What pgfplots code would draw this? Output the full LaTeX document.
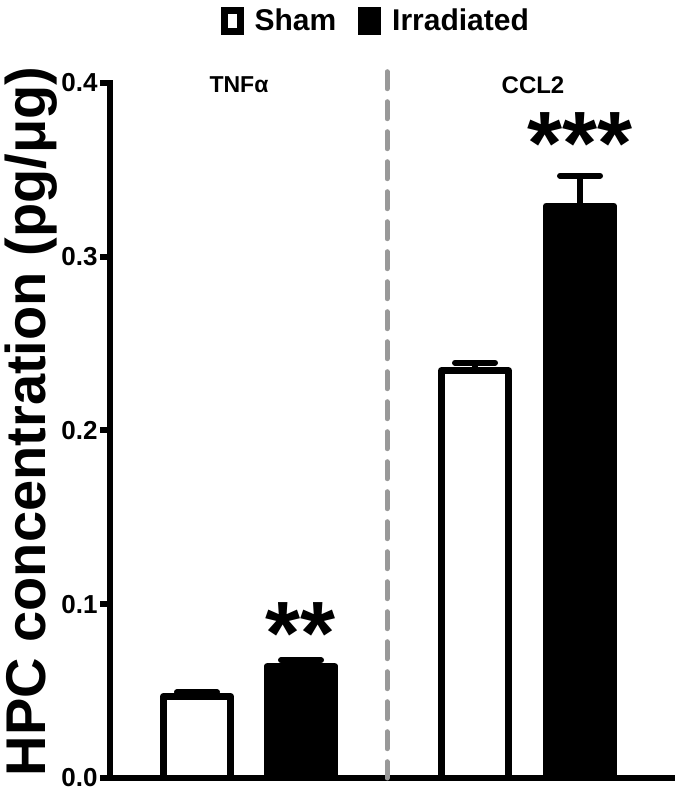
\documentclass[border=0pt]{standalone}
\usepackage{pgfplots}
\pgfplotsset{compat=1.18}
\usepackage{fontspec}
\setmainfont{Liberation Sans}
\begin{document}
\begin{tikzpicture}[x=1pt,y=1pt]
\useasboundingbox (0,0) rectangle (337,398);
\begin{axis}[
  at={(55pt,9pt)}, anchor=south west,
  scale only axis,
  width=282pt, height=347.5pt,
  xmin=0, xmax=564, ymin=0, ymax=0.4,
  axis x line=bottom, axis y line=left,
  axis line style={-, line width=3pt, line cap=rect},
  xtick=\empty,
  ytick={0,0.1,0.2,0.3,0.4},
  yticklabel style={font=\bfseries\fontsize{13}{13}\selectfont, inner xsep=1pt},
  /pgf/number format/fixed, /pgf/number format/fixed zerofill,
  /pgf/number format/precision=1,
  /pgf/number format/assume math mode=true,
  y tick style={line width=3pt, black},
  tick align=outside, major tick length=5pt,
  ylabel={HPC concentration (pg/μg)},
  ylabel style={font=\bfseries\fontsize{28}{28}\selectfont, at={(ticklabel cs:0.513)}, inner sep=1pt},
  clip=false,
  legend style={at={(rel axis cs:0.473,1)}, anchor=center, yshift=31pt,
    draw=none, fill=none, font=\bfseries\fontsize{15}{15}\selectfont,
    legend columns=2, /tikz/every even column/.append style={column sep=9pt}},
]
% separator
\addplot[black!40, line width=2.5pt, dash pattern=on 8.5pt off 6.5pt, line cap=round, forget plot]
  coordinates {(277,0.4065) (277,0)};

% Sham
\addplot[ybar, bar shift=0pt, bar width=33.75pt, draw=black, fill=white,
  line width=3.3pt, line join=round, forget plot,
  error bars/.cd, y dir=plus, y explicit,
  error bar style={line width=3pt, black},
  error mark=|, error mark options={line width=3pt, mark size=10pt, black, line cap=round}]
  coordinates {(87,0.047) +- (0,0.0024) (365,0.2345) +- (0,0.0045)};

% Irradiated
\addplot[ybar, bar shift=0pt, bar width=33.75pt, draw=black, fill=black,
  line width=3.3pt, line join=round, forget plot,
  error bars/.cd, y dir=plus, y explicit,
  error bar style={line width=3pt, black},
  error mark=|, error mark options={line width=3pt, mark size=10pt, black, line cap=round}]
  coordinates {(191,0.0644) +- (0,0.0034) (470,0.3293) +- (0,0.0173)};

\addlegendimage{legend image code/.code={\draw[line width=3.5pt, fill=white] (0pt,-5.25pt) rectangle (8pt,5.25pt); \path (13pt,0pt);}}
\addlegendentry{Sham}
\addlegendimage{legend image code/.code={\draw[line width=3.5pt, fill=black] (0pt,-5.25pt) rectangle (8pt,5.25pt); \path (13pt,0pt);}}
\addlegendentry{Irradiated}

\node[font=\bfseries\fontsize{11.5}{11.5}\selectfont] at (axis cs:129,0.3989) {TNFα};
\node[font=\bfseries\fontsize{12}{12}\selectfont] at (axis cs:423,0.3989) {CCL2};

\node[font=\bfseries\fontsize{45}{45}\selectfont] at (axis cs:191,0.0833) {**};
\node[font=\bfseries\fontsize{45}{45}\selectfont] at (axis cs:470,0.3651) {***};
\end{axis}
\end{tikzpicture}
\end{document}
